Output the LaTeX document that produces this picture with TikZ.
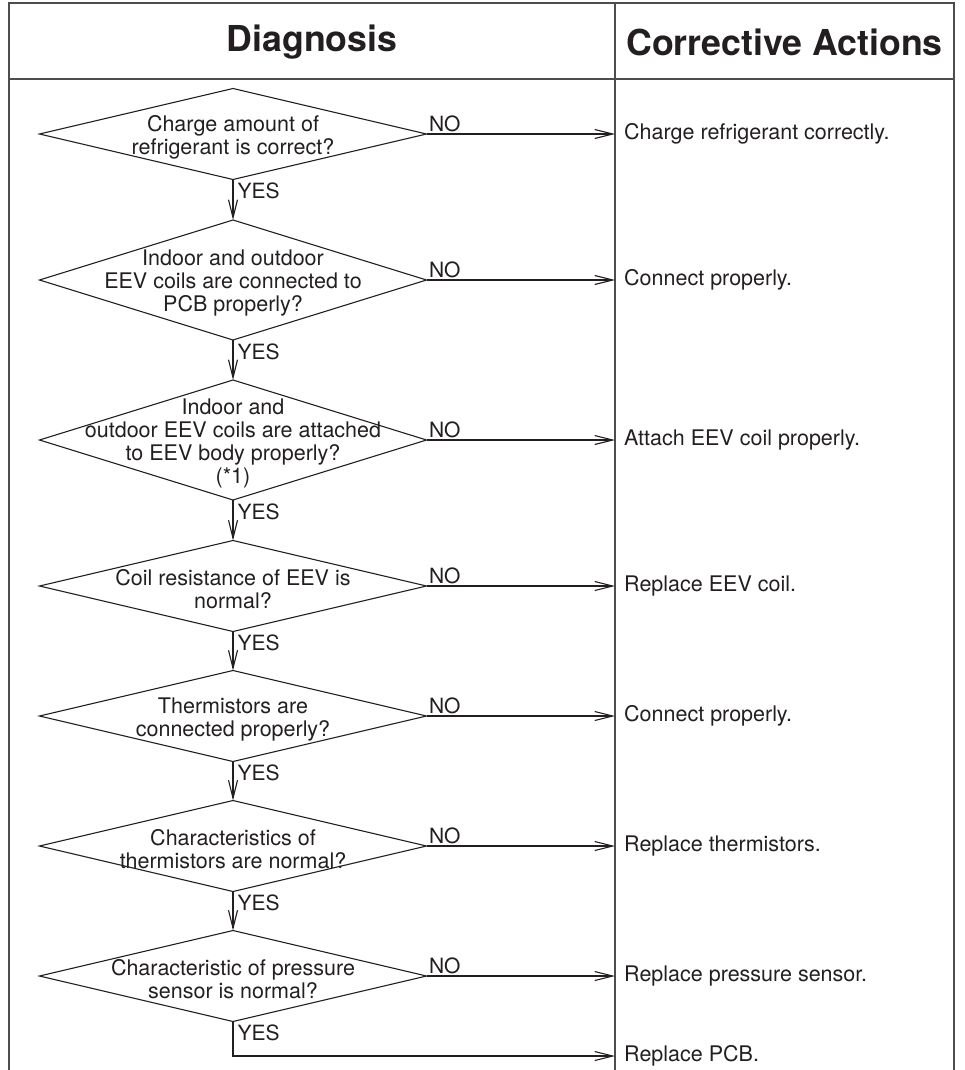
\documentclass[tikz,border=0pt]{standalone}
\usepackage{fontspec}
\setmainfont{TeX Gyre Heros}
\usepackage{xcolor}
\usetikzlibrary{arrows.meta,positioning,shapes.geometric}
\definecolor{inkx}{HTML}{231F20}
\definecolor{framex}{HTML}{4D4D4D}
\tikzset{
  ar/.style={-{Straight Barb[length=18pt,width=9pt]},line width=1.1pt,inkx},
  ask/.style={draw=inkx,line width=1.1pt,diamond,inner sep=0pt,outer sep=0pt,minimum width=387pt,minimum height=#1},
  qtext/.style={align=center,font=\fontsize{21.5}{23}\selectfont,text=inkx,yshift=-3pt},
  act/.style={anchor=west,inner xsep=9pt,font=\fontsize{21.5}{23}\selectfont,text=inkx},
  nolab/.style={anchor=south west,inner sep=2pt,font=\fontsize{21}{23}\selectfont,text=inkx},
  yeslab/.style={anchor=north west,inner xsep=4pt,inner ysep=3pt,font=\fontsize{21}{23}\selectfont,text=inkx},
  head/.style={font=\fontsize{35.7}{40}\selectfont\bfseries,text=inkx}
}

\begin{document}
\begin{tikzpicture}[x=1pt,y=-1pt]
\useasboundingbox (0,0) rectangle (965,1070);
% table frame
\draw[framex,line width=1.6pt] (9,1070) -- (9,3) -- (954,3) -- (954,1070);
\draw[framex,line width=1.6pt] (9,79) -- (954,79);
\draw[framex,line width=1.6pt] (615,3) -- (615,1070);
\node[head] (hdiag) at (312,42) {Diagnosis};
\node[head] (hact) at (784.5,42) {Corrective Actions};

% questions
\node[ask=91pt,label={[qtext]center:{Charge amount of\\refrigerant is correct?}}] (d1) at (233,134) {};
\node[ask=120pt,label={[qtext]center:{Indoor and outdoor\\EEV coils are connected to\\PCB properly?}}] (d2) at (233,280) {};
\node[ask=120pt,label={[qtext]center:{Indoor and\\outdoor EEV coils are attached\\to EEV body properly?\\(*1)}}] (d3) at (233,440) {};
\node[ask=91pt,label={[qtext]center:{Coil resistance of EEV is\\normal?}}] (d4) at (233,586) {};
\node[ask=91pt,label={[qtext]center:{Thermistors are\\connected properly?}}] (d5) at (233,716) {};
\node[ask=91pt,label={[qtext]center:{Characteristics of\\thermistors are normal?}}] (d6) at (233,846) {};
\node[ask=91pt,label={[qtext]center:{Characteristic of pressure\\sensor is normal?}}] (d7) at (233,976) {};

% actions
\node[act] (a1) at (615,134) {Charge refrigerant correctly.};
\node[act] (a2) at (615,280) {Connect properly.};
\node[act] (a3) at (615,440) {Attach EEV coil properly.};
\node[act] (a4) at (615,586) {Replace EEV coil.};
\node[act] (a5) at (615,716) {Connect properly.};
\node[act] (a6) at (615,846) {Replace thermistors.};
\node[act] (a7) at (615,976) {Replace pressure sensor.};
\node[act] (a8) at (615,1056) {Replace PCB.};

% NO branches
\foreach \i in {1,...,7}
  \draw[ar] (d\i.east) -- (a\i.west) node[nolab,pos=0]{NO};
% YES branches
\foreach \a/\b in {1/2,2/3,3/4,4/5,5/6,6/7}
  \draw[ar] (d\a.south) -- (d\b.north) node[yeslab,pos=0]{YES};
\draw[ar] (d7.south) |- (a8.west) node[yeslab,pos=0]{YES};
\end{tikzpicture}
\end{document}
